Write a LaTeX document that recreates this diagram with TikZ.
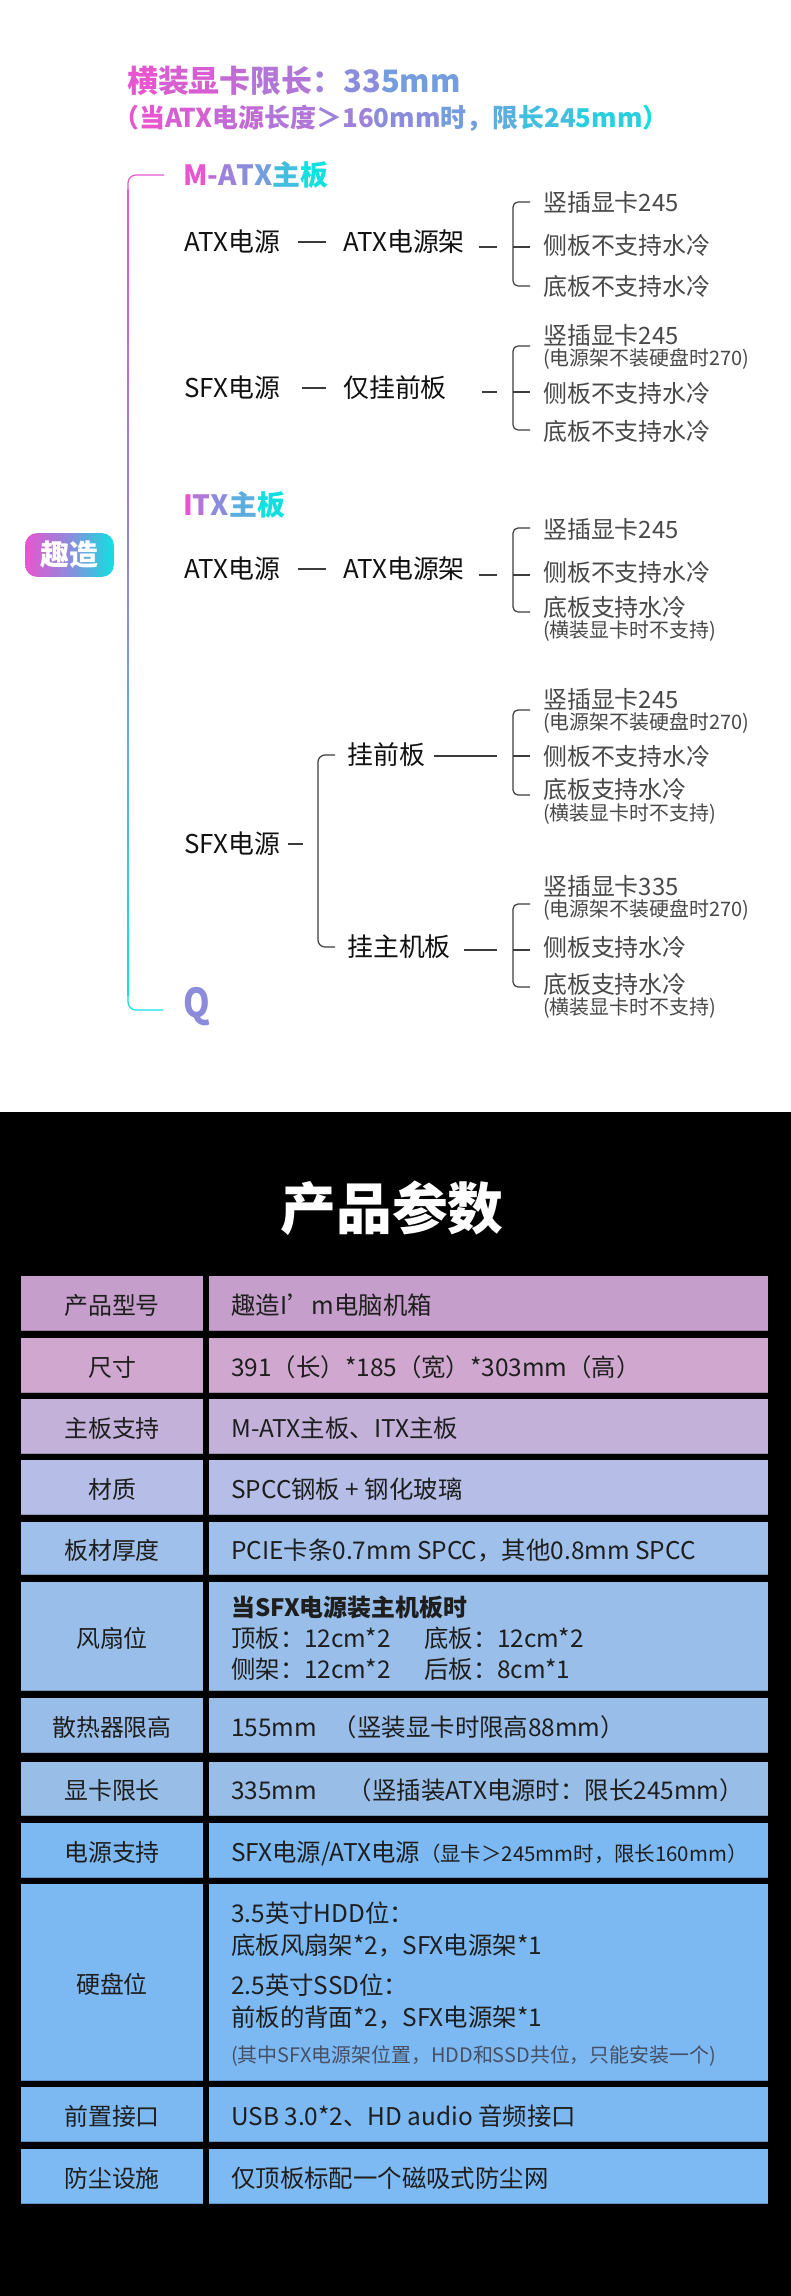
\documentclass[tikz,border=0pt]{standalone}
\usepackage{fontspec}
\setmainfont{Noto Sans CJK SC}
\definecolor{gP}{RGB}{232,85,208}
\definecolor{gM}{RGB}{140,140,220}
\definecolor{gC}{RGB}{16,224,224}
\colorlet{g0}{gP}
\colorlet{g1}{gP!80!gM}
\colorlet{g2}{gP!60!gM}
\colorlet{g3}{gP!40!gM}
\colorlet{g4}{gP!20!gM}
\colorlet{g5}{gM}
\colorlet{g6}{gM!80!gC}
\colorlet{g7}{gM!60!gC}
\colorlet{g8}{gM!40!gC}
\colorlet{g9}{gM!20!gC}
\colorlet{g10}{gC}
\definecolor{lvcol}{RGB}{17,17,17}
\definecolor{lfcol}{RGB}{72,72,72}
\definecolor{lncol}{RGB}{60,60,60}
\definecolor{tcol}{RGB}{30,30,30}
\definecolor{ncol}{RGB}{70,80,100}
\definecolor{r1}{HTML}{C59ECB}
\definecolor{r2}{HTML}{D0A8CF}
\definecolor{r3}{HTML}{C4B1DA}
\definecolor{r4}{HTML}{B6BEE7}
\definecolor{r5}{HTML}{9FC0EA}
\definecolor{r6}{HTML}{98BEE9}
\definecolor{r7}{HTML}{98BDE8}
\definecolor{r8}{HTML}{98BEE8}
\definecolor{r9}{HTML}{7CB8F2}
\definecolor{r10}{HTML}{7CB8F2}
\definecolor{r11}{HTML}{7CB8F2}
\definecolor{r12}{HTML}{7DB9F2}
\newcommand\gcol[2]{\textcolor{g#1}{#2}}
\tikzset{
  lv/.style={anchor=west, inner sep=0pt, text=lvcol, font=\fontsize{26}{30}\selectfont, text height=22.9pt, text depth=3.1pt},
  lf/.style={anchor=west, inner sep=0pt, text=lfcol, font=\fontsize{24}{28}\selectfont, text height=21.1pt, text depth=2.9pt},
  nt/.style={anchor=west, inner sep=0pt, text=lfcol, font=\fontsize{20}{24}\selectfont, text height=17.6pt, text depth=2.4pt},
  hd/.style={anchor=west, inner sep=0pt, font=\fontsize{28}{32}\selectfont\bfseries, text height=24.6pt, text depth=3.4pt},
  conn/.style={draw=lncol, line width=1.2pt},
  brk/.style={draw=lncol, line width=1.2pt, rounded corners=5pt},
  tlab/.style={inner sep=0pt, text=tcol, font=\fontsize{24}{28}\selectfont, text height=21.1pt, text depth=2.9pt},
  tval/.style={tlab, anchor=west, font=\fontsize{24.5}{28}\selectfont},
  tnote/.style={tval, font=\fontsize{20}{24}\selectfont, text=ncol, text height=17.6pt, text depth=2.4pt},
  rootbox/.style={shade, left color=gP, right color=gC, middle color=gM, rounded corners=12pt,
    minimum width=89pt, minimum height=44pt, inner sep=0pt, text=white,
    font=\fontsize{29}{29}\selectfont\bfseries}
}
\begin{document}
\begin{tikzpicture}[x=1bp,y=-1bp]
\useasboundingbox (0,0) rectangle (790,2296);
\fill[white] (-10,-10) rectangle (800,1112);
\fill[black] (-10,1112) rectangle (800,2306);

% ---------- titles ----------
\node[anchor=west, inner sep=0pt, font=\fontsize{31}{31}\selectfont\bfseries, text height=27.3pt, text depth=3.7pt] (t1) at (127,81)
  {\gcol0{横}\gcol1{装显}\gcol2{卡}\gcol3{限长}\gcol4{：}\gcol5{33}\gcol6{5mm}};
\node[anchor=west, inner sep=0pt, font=\fontsize{26}{26}\selectfont\bfseries, text height=22.9pt, text depth=3.1pt] (t2) at (113,118)
  {\gcol0{（当}\gcol1{ATX}\gcol2{电源}\gcol3{长度}\gcol4{＞16}\gcol5{0mm}\gcol6{时，}\gcol7{限}\gcol8{长24}\gcol9{5mm}\gcol{10}{）}};

% ---------- big bracket ----------
\coordinate (BT) at (164,175);
\coordinate (BTv) at (128,192);
\coordinate (BBv) at (128,993);
\coordinate (BB) at (163,1010);
\shade[top color=gP!95!gM, bottom color=gC, middle color=gM] (127.4,190) rectangle (128.6,995);
\draw[color=gP!95!gM, line width=1.2pt, rounded corners=8pt] (BT) -| (BTv);
\draw[color=gC, line width=1.2pt, rounded corners=8pt] (BBv) |- (BB);

\node[rootbox] (root) at (69.5,555) {趣造};

% ---------- M-ATX ----------
\node[hd] (h1) at (183,175) {\gcol0{M}\gcol2{-}\gcol4{A}\gcol5{T}\gcol6{X}\gcol8{主}\gcol{10}{板}};

% block A
\node[lv] (a1) at (184,242) {ATX电源};
\node[lv] (a2) at (343,242) {ATX电源架};
\draw[conn, shorten <=18pt, shorten >=17pt] (a1.east) -- (a2.west);
\coordinate (bAt) at (530,202);
\coordinate (bAm) at (513,247);
\coordinate (bAs) at (530,247);
\coordinate (bAb) at (530,286);
\draw[conn, shorten <=14pt, shorten >=16pt] (a2.east |- bAm) -- (bAm);
\draw[brk] (bAt) -| (bAm) |- (bAb);
\draw[conn] (bAm) -- (bAs);
\node[lf] (a3) at (543,202) {竖插显卡245};
\node[lf] (a4) at (543,245) {侧板不支持水冷};
\node[lf] (a5) at (543,286) {底板不支持水冷};

% block B
\node[lv] (b1) at (184,388) {SFX电源};
\node[lv] (b2) at (343,388) {仅挂前板};
\draw[conn, shorten <=22pt, shorten >=17pt] (b1.east) -- (b2.west);
\coordinate (bBt) at (530,346);
\coordinate (bBm) at (513,392);
\coordinate (bBs) at (530,392);
\coordinate (bBb) at (530,430);
\draw[conn, shorten <=35pt, shorten >=16pt] (b2.east |- bBm) -- (bBm);
\draw[brk] (bBt) -| (bBm) |- (bBb);
\draw[conn] (bBm) -- (bBs);
\node[lf] (b3) at (543,335) {竖插显卡245};
\node[nt] (b4) at (543,358) {(电源架不装硬盘时270)};
\node[lf] (b5) at (543,393) {侧板不支持水冷};
\node[lf] (b6) at (543,431) {底板不支持水冷};

% ---------- ITX ----------
\node[hd] (h2) at (183,505) {\gcol0{I}\gcol3{T}\gcol5{X}\gcol7{主}\gcol{10}{板}};

% block C
\node[lv] (c1) at (184,569) {ATX电源};
\node[lv] (c2) at (343,569) {ATX电源架};
\draw[conn, shorten <=18pt, shorten >=17pt] (c1.east) -- (c2.west);
\coordinate (bCt) at (530,528);
\coordinate (bCm) at (513,575);
\coordinate (bCs) at (530,575);
\coordinate (bCb) at (530,612);
\draw[conn, shorten <=14pt, shorten >=16pt] (c2.east |- bCm) -- (bCm);
\draw[brk] (bCt) -| (bCm) |- (bCb);
\draw[conn] (bCm) -- (bCs);
\node[lf] (c3) at (543,529) {竖插显卡245};
\node[lf] (c4) at (543,572) {侧板不支持水冷};
\node[lf] (c5) at (543,607) {底板支持水冷};
\node[nt] (c6) at (543,630) {(横装显卡时不支持)};

% block D
\node[lv] (d1) at (184,844) {SFX电源};
\coordinate (dBr) at (318,844);
\draw[conn, shorten <=8pt, shorten >=15pt] (d1.east) -- (dBr);
\node[lv] (d2) at (347,755) {挂前板};
\node[lv] (d3) at (347,947) {挂主机板};
\draw[brk, rounded corners=7pt, shorten <=12pt, shorten >=12pt] (d2.west) -| (dBr) |- (d3.west);

\coordinate (bDt) at (530,710);
\coordinate (bDm) at (513,756);
\coordinate (bDs) at (530,756);
\coordinate (bDb) at (530,795);
\draw[conn, shorten <=9pt, shorten >=16pt] (d2.east |- bDm) -- (bDm);
\draw[brk] (bDt) -| (bDm) |- (bDb);
\draw[conn] (bDm) -- (bDs);
\node[lf] (d4) at (543,699) {竖插显卡245};
\node[nt] (d5) at (543,722) {(电源架不装硬盘时270)};
\node[lf] (d6) at (543,756) {侧板不支持水冷};
\node[lf] (d7) at (543,789) {底板支持水冷};
\node[nt] (d8) at (543,813) {(横装显卡时不支持)};

\coordinate (bEt) at (530,904);
\coordinate (bEm) at (513,950);
\coordinate (bEs) at (530,950);
\coordinate (bEb) at (530,987);
\draw[conn, shorten <=13pt, shorten >=16pt] (d3.east |- bEm) -- (bEm);
\draw[brk] (bEt) -| (bEm) |- (bEb);
\draw[conn] (bEm) -- (bEs);
\node[lf] (e1) at (543,886) {竖插显卡335};
\node[nt] (e2) at (543,909) {(电源架不装硬盘时270)};
\node[lf] (e3) at (543,947) {侧板支持水冷};
\node[lf] (e4) at (543,984) {底板支持水冷};
\node[nt] (e5) at (543,1007) {(横装显卡时不支持)};

% Q logo letter
\node[inner sep=0pt, text=gM, font=\fontsize{40}{40}\selectfont\bfseries, xscale=0.85] (q) at (196.5,1007) {Q};

% ---------- parameters table ----------
\node[inner sep=0pt, text=white, font=\fontsize{56}{56}\selectfont\bfseries] (ptitle) at (392,1208) {产品参数};

\foreach \t/\b/\c in {1276/1331/r1, 1338/1393/r2, 1399/1454/r3, 1460/1515/r4, 1522/1575/r5,
  1582/1691/r6, 1698/1753/r7, 1762/1816/r8, 1823/1878/r9, 1884/2081/r10, 2087/2142/r11, 2149/2204/r12}{
  \fill[\c] (21,\t) rectangle (203,\b);
  \fill[\c] (209,\t) rectangle (768,\b);
  \draw[\c!80!black, line width=1pt] (21,\b-0.5) -- (203,\b-0.5);
  \draw[\c!80!black, line width=1pt] (209,\b-0.5) -- (768,\b-0.5);
}

\node[tlab] (L1) at (112,1305) {产品型号};
\node[tval] (R1) at (231,1305) {趣造I’m电脑机箱};
\node[tlab] (L2) at (112,1367) {尺寸};
\node[tval] (R2) at (231,1367) {391（长）*185（宽）*303mm（高）};
\node[tlab] (L3) at (112,1428) {主板支持};
\node[tval] (R3) at (231,1428) {M-ATX主板、ITX主板};
\node[tlab] (L4) at (112,1489) {材质};
\node[tval] (R4) at (231,1489) {SPCC钢板 + 钢化玻璃};
\node[tlab] (L5) at (112,1550) {板材厚度};
\node[tval] (R5) at (231,1550) {PCIE卡条0.7mm SPCC，其他0.8mm SPCC};
\node[tlab] (L6) at (112,1638) {风扇位};
\node[tval, font=\fontsize{24}{28}\selectfont\bfseries] (R6a) at (231,1607) {当SFX电源装主机板时};
\node[tval] (R6b) at (231,1638) {顶板：12cm*2};
\node[tval] (R6c) at (424,1638) {底板：12cm*2};
\node[tval] (R6d) at (231,1669) {侧架：12cm*2};
\node[tval] (R6e) at (424,1669) {后板：8cm*1};
\node[tlab] (L7) at (112,1727) {散热器限高};
\node[tval] (R7) at (231,1727) {155mm\hspace{16pt}（竖装显卡时限高88mm）};
\node[tlab] (L8) at (112,1790) {显卡限长};
\node[tval] (R8) at (231,1790) {335mm\hspace{31pt}（竖插装ATX电源时：限长245mm）};
\node[tlab] (L9) at (112,1852) {电源支持};
\node[tval] (R9) at (231,1852) {SFX电源/ATX电源{\fontsize{20.5}{24}\selectfont（显卡＞245mm时，限长160mm）}};
\node[tlab] (L10) at (112,1984) {硬盘位};
\node[tval] (R10a) at (231,1913) {3.5英寸HDD位：};
\node[tval] (R10b) at (231,1945) {底板风扇架*2，SFX电源架*1};
\node[tval] (R10c) at (231,1985) {2.5英寸SSD位：};
\node[tval] (R10d) at (231,2017) {前板的背面*2，SFX电源架*1};
\node[tnote] (R10e) at (231,2055) {(其中SFX电源架位置，HDD和SSD共位，只能安装一个)};
\node[tlab] (L11) at (112,2116) {前置接口};
\node[tval] (R11) at (231,2116) {USB 3.0*2、HD audio 音频接口};
\node[tlab] (L12) at (112,2178) {防尘设施};
\node[tval] (R12) at (231,2178) {仅顶板标配一个磁吸式防尘网};
\end{tikzpicture}
\end{document}
